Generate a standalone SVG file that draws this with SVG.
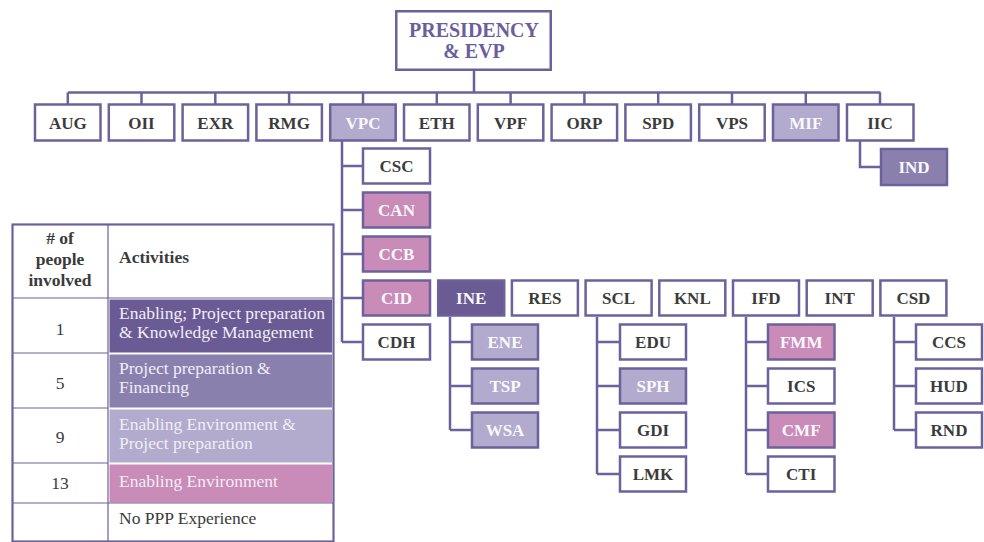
<svg xmlns="http://www.w3.org/2000/svg" width="984" height="542" viewBox="0 0 984 542">
<style>
.b{fill:#fff;stroke:#6d619c;stroke-width:2.5}
.dk{fill:#6a5b94}
.md{fill:#8a80ae}
.lt{fill:#b2abcd}
.pk{fill:#c98bb8}
.t{font-family:"Liberation Serif",serif;font-weight:bold;font-size:17px;text-anchor:middle;fill:#3b3b3b}
.w{fill:#fbf9ff}
.ln{fill:none;stroke:#6d619c;stroke-width:2.5}
.tl{fill:none;stroke:#6d619c;stroke-width:1.2}
.lg{font-family:"Liberation Serif",serif;font-size:17.5px;fill:#3b3b3b}
.lw{fill:#f1eef7}
.hd{font-weight:bold}
.c{text-anchor:middle}
</style>

<g id="connectors">
  <path class="ln" d="M474 71V92.5M67.8 92.5H880.5"/>
  <path class="ln" d="M67.8 92.5V104M141.5 92.5V104M215.3 92.5V104M289.1 92.5V104M363 92.5V104M436.8 92.5V104M510.6 92.5V104M584.4 92.5V104M658.2 92.5V104M732 92.5V104M805.8 92.5V104M880 92.5V104"/>
  <path class="ln" d="M860 141V167H881"/>
  <path class="ln" d="M342 141V342M342 166H363M342 210H363M342 254H363M342 298H363M342 342H363"/>
  <path class="ln" d="M450 317V430M450 342H472M450 386H472M450 430H472"/>
  <path class="ln" d="M597 317V474M597 342H620M597 386H620M597 430H620M597 474H620"/>
  <path class="ln" d="M746 317V474M746 342H768M746 386H768M746 430H768M746 474H768"/>
  <path class="ln" d="M894 317V430M894 342H916M894 386H916M894 430H916"/>
</g>

<g id="PRESIDENCY">
  <rect class="b" x="396.25" y="11.25" width="154.5" height="58.5"/>
  <text class="t" x="474" y="36.5" style="font-size:20px;fill:#6b5e9c">PRESIDENCY</text>
  <text class="t" x="474" y="57.5" style="font-size:20px;fill:#6b5e9c">&amp; EVP</text>
</g>

<g id="AUG"><rect class="b" x="35" y="104.5" width="65.5" height="36"/><text class="t" x="67.8" y="128.5">AUG</text></g>
<g id="OII"><rect class="b" x="108.8" y="104.5" width="65.5" height="36"/><text class="t" x="141.5" y="128.5">OII</text></g>
<g id="EXR"><rect class="b" x="182.6" y="104.5" width="65.5" height="36"/><text class="t" x="215.3" y="128.5">EXR</text></g>
<g id="RMG"><rect class="b" x="256.4" y="104.5" width="65.5" height="36"/><text class="t" x="289.1" y="128.5">RMG</text></g>
<g id="VPC"><rect class="b lt" x="330.2" y="104.5" width="65.5" height="36"/><text class="t w" x="363" y="128.5">VPC</text></g>
<g id="ETH"><rect class="b" x="404" y="104.5" width="65.5" height="36"/><text class="t" x="436.8" y="128.5">ETH</text></g>
<g id="VPF"><rect class="b" x="477.8" y="104.5" width="65.5" height="36"/><text class="t" x="510.6" y="128.5">VPF</text></g>
<g id="ORP"><rect class="b" x="551.6" y="104.5" width="65.5" height="36"/><text class="t" x="584.4" y="128.5">ORP</text></g>
<g id="SPD"><rect class="b" x="625.4" y="104.5" width="65.5" height="36"/><text class="t" x="658.2" y="128.5">SPD</text></g>
<g id="VPS"><rect class="b" x="699.2" y="104.5" width="65.5" height="36"/><text class="t" x="732" y="128.5">VPS</text></g>
<g id="MIF"><rect class="b lt" x="773" y="104.5" width="65.5" height="36"/><text class="t w" x="805.8" y="128.5">MIF</text></g>
<g id="IIC"><rect class="b" x="847" y="104.5" width="66.5" height="36"/><text class="t" x="880" y="128.5">IIC</text></g>
<g id="IND"><rect class="b md" x="881" y="149" width="66" height="36"/><text class="t w" x="914" y="173">IND</text></g>

<g id="CSC"><rect class="b" x="363" y="148.5" width="67" height="35"/><text class="t" x="396.5" y="172">CSC</text></g>
<g id="CAN"><rect class="b pk" x="363" y="192.5" width="67" height="35"/><text class="t w" x="396.5" y="216">CAN</text></g>
<g id="CCB"><rect class="b pk" x="363" y="236.5" width="67" height="35"/><text class="t w" x="396.5" y="260">CCB</text></g>
<g id="CID"><rect class="b pk" x="363" y="280.5" width="67" height="35"/><text class="t w" x="396.5" y="304">CID</text></g>
<g id="CDH"><rect class="b" x="363" y="324.5" width="67" height="35"/><text class="t" x="396.5" y="348">CDH</text></g>

<g id="INE"><rect class="b dk" x="438.2" y="280.5" width="66" height="35"/><text class="t w" x="471.2" y="304">INE</text></g>
<g id="RES"><rect class="b" x="511.9" y="280.5" width="66" height="35"/><text class="t" x="544.9" y="304">RES</text></g>
<g id="SCL"><rect class="b" x="585.6" y="280.5" width="66" height="35"/><text class="t" x="618.6" y="304">SCL</text></g>
<g id="KNL"><rect class="b" x="659.3" y="280.5" width="66" height="35"/><text class="t" x="692.3" y="304">KNL</text></g>
<g id="IFD"><rect class="b" x="733" y="280.5" width="66" height="35"/><text class="t" x="766" y="304">IFD</text></g>
<g id="INT"><rect class="b" x="806.7" y="280.5" width="66" height="35"/><text class="t" x="839.7" y="304">INT</text></g>
<g id="CSD"><rect class="b" x="880.4" y="280.5" width="66" height="35"/><text class="t" x="913.4" y="304">CSD</text></g>

<g id="ENE"><rect class="b lt" x="472" y="324.5" width="66" height="35"/><text class="t w" x="505" y="348">ENE</text></g>
<g id="TSP"><rect class="b lt" x="472" y="368.5" width="66" height="35"/><text class="t w" x="505" y="392">TSP</text></g>
<g id="WSA"><rect class="b lt" x="472" y="412.5" width="66" height="35"/><text class="t w" x="505" y="436">WSA</text></g>

<g id="EDU"><rect class="b" x="620" y="324.5" width="66" height="35"/><text class="t" x="653" y="348">EDU</text></g>
<g id="SPH"><rect class="b lt" x="620" y="368.5" width="66" height="35"/><text class="t w" x="653" y="392">SPH</text></g>
<g id="GDI"><rect class="b" x="620" y="412.5" width="66" height="35"/><text class="t" x="653" y="436">GDI</text></g>
<g id="LMK"><rect class="b" x="620" y="456.5" width="66" height="35"/><text class="t" x="653" y="480">LMK</text></g>

<g id="FMM"><rect class="b pk" x="768" y="324.5" width="66.5" height="35"/><text class="t w" x="801.2" y="348">FMM</text></g>
<g id="ICS"><rect class="b" x="768" y="368.5" width="66.5" height="35"/><text class="t" x="801.2" y="392">ICS</text></g>
<g id="CMF"><rect class="b pk" x="768" y="412.5" width="66.5" height="35"/><text class="t w" x="801.2" y="436">CMF</text></g>
<g id="CTI"><rect class="b" x="768" y="456.5" width="66.5" height="35"/><text class="t" x="801.2" y="480">CTI</text></g>

<g id="CCS"><rect class="b" x="916" y="324.5" width="66" height="35"/><text class="t" x="949" y="348">CCS</text></g>
<g id="HUD"><rect class="b" x="916" y="368.5" width="66" height="35"/><text class="t" x="949" y="392">HUD</text></g>
<g id="RND"><rect class="b" x="916" y="412.5" width="66" height="35"/><text class="t" x="949" y="436">RND</text></g>

<g id="legend">
  <rect x="12.5" y="224.5" width="321" height="317" fill="#fff"/>
  <rect class="dk" x="109.5" y="299.5" width="222.5" height="53"/>
  <rect class="md" x="109.5" y="354.5" width="222.5" height="53"/>
  <rect class="lt" x="109.5" y="409.5" width="222.5" height="53"/>
  <rect class="pk" x="109.5" y="464.5" width="222.5" height="38"/>
  <path class="tl" d="M108 224.5V541.5M12.5 298H333.5M12.5 353H108M12.5 408H108M12.5 463H108M12.5 503H333.5"/>
  <rect x="12.5" y="224.5" width="321" height="317" fill="none" stroke="#6d619c" stroke-width="2.2"/>
  <text class="lg hd c" x="60" y="244">#&#160;of</text>
  <text class="lg hd c" x="60" y="265">people</text>
  <text class="lg hd c" x="60" y="286">involved</text>
  <text class="lg hd" x="119" y="263">Activities</text>
  <text class="lg c" x="60" y="335">1</text>
  <text class="lg c" x="60" y="389">5</text>
  <text class="lg c" x="60" y="443">9</text>
  <text class="lg c" x="60" y="489">13</text>
  <text class="lg lw" x="119" y="319">Enabling; Project preparation</text>
  <text class="lg lw" x="119" y="338">&amp; Knowledge Management</text>
  <text class="lg lw" x="119" y="374">Project preparation &amp;</text>
  <text class="lg lw" x="119" y="393">Financing</text>
  <text class="lg lw" x="119" y="430">Enabling Environment &amp;</text>
  <text class="lg lw" x="119" y="449">Project preparation</text>
  <text class="lg lw" x="119" y="487">Enabling Environment</text>
  <text class="lg" x="119" y="524">No PPP Experience</text>
</g>
</svg>
